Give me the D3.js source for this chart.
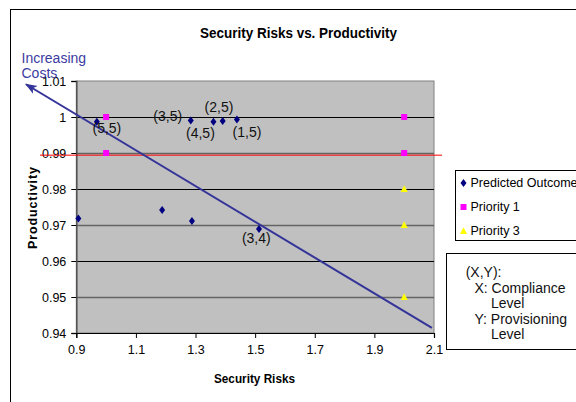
<!DOCTYPE html>
<html>
<head>
<meta charset="utf-8">
<script src="https://cdn.jsdelivr.net/npm/d3@7"></script>
<style>
  html, body { margin: 0; padding: 0; background: #fff; }
  svg { display: block; font-family: "Liberation Sans", Arial, sans-serif; }
</style>
</head>
<body>
<svg id="chart" width="576" height="402"></svg>
<script>
// Scatter: productivity against security risk
const xTicks = [0.9, 1.1, 1.3, 1.5, 1.7, 1.9, 2.1];
const yTicks = [0.94, 0.95, 0.96, 0.97, 0.98, 0.99, 1, 1.01];

const predictedX = [0.907, 0.969, 1.284, 1.360, 1.391, 1.439, 1.188, 1.288, 1.513];
const predictedY = [0.9718, 0.9987, 0.9990, 0.9987, 0.9989, 0.9993, 0.9742, 0.9711, 0.9689];
const predictedLabels = ["", "(5,5)", "(3,5)", "(4,5)", "(2,5)", "(1,5)", "", "", "(3,4)"];

const priority1X = [1.0, 1.0, 2.0, 2.0];
const priority1Y = [1.00, 0.99, 1.00, 0.99];

const priority3X = [2.0, 2.0, 2.0];
const priority3Y = [0.98, 0.97, 0.95];

// cost trend arrow, drawn from the lower right towards the upper left
const trendX = [2.093, 0.731];
const trendY = [0.9414, 1.0091];

const referenceLevel = 0.9894;

const legendNames = ["Predicted Outcomes", "Priority 1", "Priority 3"];
const noteLines = ["(X,Y):", "X: Compliance", "Level", "Y: Provisioning", "Level"];

// label placement around its point: [dx, dy]
const labelShift = [null, [10, 11.6], [-23, 0.4], [-13, 16.6], [-3.7, -8.7], [10, 17.6], null, null, [-2.7, 14.3]];

const svg = d3.select("#chart");
const plot = { left: 76.3, right: 434, top: 81, bottom: 333 };

const x = d3.scaleLinear().domain([0.9, 2.1]).range([plot.left, plot.right]);
const y = d3.scaleLinear().domain([0.94, 1.01]).range([plot.bottom, plot.top]);

// outer chart frame
svg.append("rect")
  .attr("x", 10.5).attr("y", 9.5).attr("width", 600).attr("height", 420)
  .attr("fill", "#fff").attr("stroke", "#000").attr("stroke-width", 1);

// title
svg.append("text")
  .attr("x", 200).attr("y", 38)
  .attr("font-size", 15).attr("font-weight", "bold")
  .attr("textLength", 197).attr("lengthAdjust", "spacingAndGlyphs")
  .attr("fill", "#000")
  .text("Security Risks vs. Productivity");

// plot background
svg.append("rect")
  .attr("x", plot.left).attr("y", plot.top)
  .attr("width", plot.right - plot.left).attr("height", plot.bottom - plot.top)
  .attr("fill", "#c0c0c0").attr("stroke", "#808080").attr("stroke-width", 1);

// horizontal gridlines
const gridTicks = yTicks.filter(t => t > 0.94 && t < 1.01);
svg.append("g").selectAll("line")
  .data(gridTicks)
  .join("line")
  .attr("x1", plot.left).attr("x2", plot.right)
  .attr("y1", d => Math.round(y(d)) + 0.5).attr("y2", d => Math.round(y(d)) + 0.5)
  .attr("stroke", (d, i) => i % 2 === 0 ? "#646464" : "#000")
  .attr("stroke-width", (d, i) => i % 2 === 0 ? 1.6 : 1);

// y axis
const yAxis = d3.axisLeft(y).tickValues(yTicks).tickSize(5).tickPadding(5).tickFormat(d => String(d));
const gy = svg.append("g").attr("transform", `translate(${plot.left},0)`).call(yAxis);
gy.select(".domain").attr("stroke", "#555").attr("stroke-width", 1.6);
gy.selectAll(".tick line").attr("stroke", "#000");
gy.selectAll(".tick text").attr("font-size", 12.5).attr("fill", "#000")
  .attr("font-family", "'Liberation Sans', Arial, sans-serif");

// x axis
const xAxis = d3.axisBottom(x).tickValues(xTicks).tickSize(5).tickPadding(7).tickFormat(d => String(d));
const gx = svg.append("g").attr("transform", `translate(0,${plot.bottom})`).call(xAxis);
gx.select(".domain").attr("stroke", "#000").attr("stroke-width", 1.2);
gx.selectAll(".tick line").attr("stroke", "#000");
gx.selectAll(".tick text").attr("font-size", 12.5).attr("fill", "#000")
  .attr("font-family", "'Liberation Sans', Arial, sans-serif");

// axis titles
svg.append("text")
  .attr("x", 214).attr("y", 383)
  .attr("font-size", 12.5).attr("font-weight", "bold")
  .attr("textLength", 81).attr("lengthAdjust", "spacingAndGlyphs")
  .text("Security Risks");

svg.append("text")
  .attr("transform", "translate(37,249) rotate(-90)")
  .attr("font-size", 12.5).attr("font-weight", "bold")
  .attr("textLength", 82).attr("lengthAdjust", "spacing")
  .text("Productivity");

// reference level line
svg.append("line")
  .attr("x1", 40).attr("x2", 442)
  .attr("y1", y(referenceLevel)).attr("y2", y(referenceLevel))
  .attr("stroke", "#ff0000").attr("stroke-width", 1);

// marker shapes
const diamondPath = "M0,-4L3,0L0,4L-3,0Z";
const squarePath = "M-3,-3H3V3H-3Z";
const trianglePath = "M0,-3.8L3.6,3L-3.6,3Z";

// cost trend arrow
const defs = svg.append("defs");
defs.append("marker")
  .attr("id", "arrowHead")
  .attr("viewBox", "0 -5 12 10")
  .attr("refX", 11).attr("refY", 0)
  .attr("markerWidth", 12).attr("markerHeight", 10)
  .attr("markerUnits", "userSpaceOnUse")
  .attr("orient", "auto")
  .append("path")
  .attr("d", "M0,-4.5L12,0L0,4.5L3,0Z")
  .attr("fill", "#333399");

svg.append("line")
  .attr("x1", x(trendX[0])).attr("y1", y(trendY[0]))
  .attr("x2", x(trendX[1])).attr("y2", y(trendY[1]))
  .attr("stroke", "#333399").attr("stroke-width", 2)
  .attr("marker-end", "url(#arrowHead)");

svg.append("text")
  .attr("fill", "#3b3ba0").attr("font-size", 14)
  .selectAll("tspan")
  .data(["Increasing", "Costs"])
  .join("tspan")
  .attr("x", 21.5)
  .attr("y", (d, i) => 62.7 + i * 15)
  .text(d => d);

// priority 3 triangles
svg.append("g").selectAll("path")
  .data(priority3X.map((v, i) => [v, priority3Y[i]]))
  .join("path")
  .attr("d", trianglePath)
  .attr("transform", d => `translate(${x(d[0])},${y(d[1])})`)
  .attr("fill", "#ffff00");

// priority 1 squares
svg.append("g").selectAll("path")
  .data(priority1X.map((v, i) => [v, priority1Y[i]]))
  .join("path")
  .attr("d", squarePath)
  .attr("transform", d => `translate(${x(d[0])},${y(d[1])})`)
  .attr("fill", "#ff00ff");

// predicted outcomes
svg.append("g").selectAll("path")
  .data(predictedX.map((v, i) => [v, predictedY[i]]))
  .join("path")
  .attr("d", diamondPath)
  .attr("transform", d => `translate(${x(d[0])},${y(d[1])})`)
  .attr("fill", "#000080");

svg.append("g").selectAll("text")
  .data(predictedLabels.map((t, i) => ({ t, i })).filter(d => d.t))
  .join("text")
  .attr("x", d => x(predictedX[d.i]) + labelShift[d.i][0])
  .attr("y", d => y(predictedY[d.i]) + labelShift[d.i][1])
  .attr("text-anchor", "middle")
  .attr("font-size", 14).attr("fill", "#111")
  .text(d => d.t);

// legend
const legend = svg.append("g");
legend.append("rect")
  .attr("x", 455.5).attr("y", 170.5).attr("width", 140).attr("height", 70)
  .attr("fill", "#fff").attr("stroke", "#000").attr("stroke-width", 1);
const legendShapes = [diamondPath, squarePath, trianglePath];
const legendColors = ["#000080", "#ff00ff", "#ffff00"];
legendNames.forEach((name, i) => {
  const cy = 183 + i * 24;
  legend.append("path")
    .attr("d", legendShapes[i])
    .attr("transform", `translate(463.5,${cy})`)
    .attr("fill", legendColors[i]);
  legend.append("text")
    .attr("x", 470.5).attr("y", cy + 4.3)
    .attr("font-size", 12.5).attr("fill", "#000")
    .text(name);
});

// coordinate note box
const note = svg.append("g");
note.append("rect")
  .attr("x", 446.5).attr("y", 253.5).attr("width", 150).attr("height", 96)
  .attr("fill", "#fff").attr("stroke", "#000").attr("stroke-width", 1);
const noteX = [465.7, 474.5, 491, 474.5, 491];
note.selectAll("text")
  .data(noteLines)
  .join("text")
  .attr("x", (d, i) => noteX[i])
  .attr("y", (d, i) => 277 + i * 15.5)
  .attr("font-size", 14).attr("fill", "#111")
  .text(d => d);
</script>
</body>
</html>
